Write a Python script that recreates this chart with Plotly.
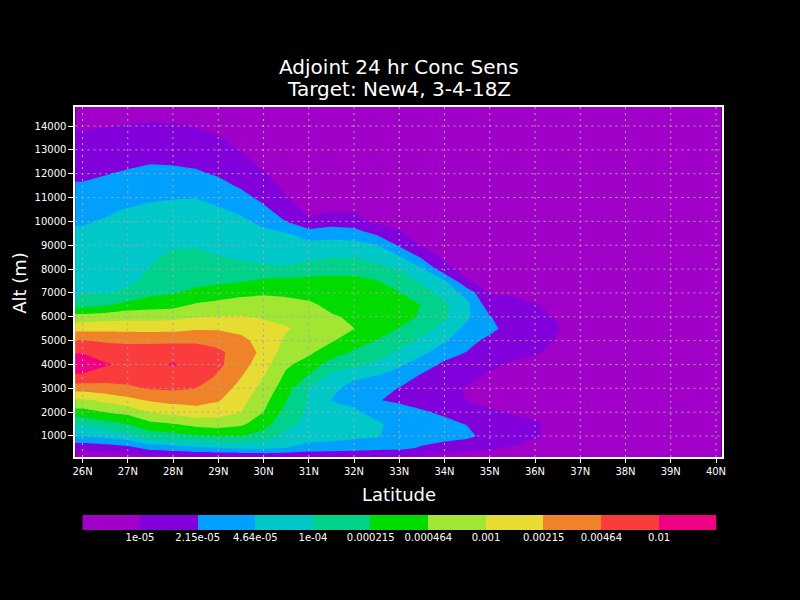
import numpy as np
import plotly.graph_objects as go

# ---------------- data (log10 of adjoint concentration sensitivity) ----------------
latitudes = [25.8, 26.0, 26.5, 27.0, 27.5, 28.0, 28.5, 29.0, 29.5, 30.0, 30.5, 31.0, 31.5,
             32.0, 32.5, 33.0, 33.5, 34.0, 34.5, 35.0, 35.5, 36.0, 36.5, 37.0, 38.0, 40.2]
altitudes_m = [0, 500, 1000, 1500, 2000, 2500, 3000, 3500, 4000, 4500, 5000, 5500, 6000, 6500,
               7000, 7500, 8000, 8500, 9000, 9500, 10000, 10500, 11000, 11500, 12000, 12500,
               13000, 13500, 14000, 14500, 15000]

# one vertical profile (bottom -> top) per latitude
log_sens_25p8N = [-5.2, -4.92, -4.31, -3.96, -3.45, -3.06, -2.52, -2.06, -1.8, -2.02, -2.32, -2.77, -3.2, -3.79, -4.43, -4.23, -4.12, -4.18, -4.24, -4.29, -4.36, -4.45, -4.55, -4.64, -4.72, -4.8, -4.87, -4.95, -5.03, -5.1, -5.17]
log_sens_26N = [-5.2, -4.92, -4.31, -3.96, -3.45, -3.06, -2.52, -2.06, -1.8, -2.02, -2.32, -2.77, -3.2, -3.79, -4.01, -4.07, -4.12, -4.18, -4.24, -4.29, -4.36, -4.45, -4.55, -4.64, -4.72, -4.8, -4.87, -4.95, -5.03, -5.1, -5.17]
log_sens_26p5N = [-5.2, -4.86, -4.23, -3.8, -3.33, -2.92, -2.46, -2.17, -1.97, -2.16, -2.37, -2.76, -3.15, -3.72, -4.01, -4.05, -4.1, -4.15, -4.2, -4.26, -4.31, -4.38, -4.48, -4.59, -4.68, -4.76, -4.85, -4.93, -5.01, -5.08, -5.15]
log_sens_27N = [-5.22, -4.77, -4.1, -3.66, -3.23, -2.77, -2.4, -2.17, -2.07, -2.17, -2.4, -2.76, -3.11, -3.54, -3.96, -4.04, -4.09, -4.14, -4.18, -4.23, -4.28, -4.32, -4.42, -4.53, -4.63, -4.73, -4.81, -4.9, -4.99, -5.07, -5.13]
log_sens_27p5N = [-5.23, -4.55, -3.84, -3.42, -2.99, -2.63, -2.3, -2.13, -2.07, -2.13, -2.41, -2.77, -3.12, -3.47, -3.74, -3.95, -3.99, -4.04, -4.1, -4.16, -4.22, -4.28, -4.37, -4.48, -4.58, -4.69, -4.78, -4.88, -4.97, -5.07, -5.13]
log_sens_28N = [-5.23, -4.47, -3.77, -3.35, -2.89, -2.56, -2.28, -2.1, -1.98, -2.1, -2.41, -2.76, -3.09, -3.45, -3.69, -3.77, -3.86, -3.94, -4.03, -4.1, -4.18, -4.26, -4.35, -4.47, -4.59, -4.7, -4.8, -4.89, -4.98, -5.07, -5.13]
log_sens_28p5N = [-5.23, -4.37, -3.7, -3.22, -2.81, -2.54, -2.33, -2.17, -2.07, -2.13, -2.4, -2.7, -3.02, -3.29, -3.6, -3.74, -3.84, -3.93, -4.02, -4.1, -4.18, -4.26, -4.34, -4.48, -4.62, -4.73, -4.82, -4.91, -5.01, -5.07, -5.13]
log_sens_29N = [-5.2, -4.33, -3.65, -3.17, -2.86, -2.64, -2.5, -2.37, -2.27, -2.27, -2.44, -2.7, -2.99, -3.23, -3.51, -3.73, -3.86, -3.99, -4.07, -4.15, -4.23, -4.3, -4.43, -4.57, -4.7, -4.79, -4.88, -4.98, -5.07, -5.13, -5.17]
log_sens_29p5N = [-5.2, -4.28, -3.65, -3.27, -2.99, -2.89, -2.77, -2.65, -2.52, -2.48, -2.58, -2.76, -2.98, -3.19, -3.41, -3.69, -3.9, -4.04, -4.12, -4.2, -4.28, -4.39, -4.56, -4.71, -4.81, -4.91, -5.01, -5.08, -5.13, -5.17, -5.2]
log_sens_30N = [-5.17, -4.27, -3.8, -3.53, -3.33, -3.22, -3.1, -2.99, -2.87, -2.75, -2.8, -2.9, -3.03, -3.19, -3.37, -3.6, -3.93, -4.08, -4.17, -4.27, -4.4, -4.6, -4.75, -4.86, -4.98, -5.07, -5.12, -5.15, -5.17, -5.18, -5.2]
log_sens_30p5N = [-5.17, -4.33, -4.09, -3.91, -3.78, -3.65, -3.52, -3.4, -3.28, -3.16, -3.05, -2.97, -3.09, -3.23, -3.39, -3.57, -3.96, -4.1, -4.21, -4.32, -4.67, -4.83, -4.99, -5.07, -5.12, -5.15, -5.17, -5.18, -5.18, -5.2, -5.2]
log_sens_31N = [-5.17, -4.44, -4.2, -4.1, -4.05, -4.03, -4.01, -3.7, -3.46, -3.28, -3.17, -3.1, -3.15, -3.28, -3.43, -3.58, -3.82, -4.08, -4.23, -4.5, -4.96, -5.07, -5.12, -5.15, -5.17, -5.18, -5.18, -5.2, -5.2, -5.2, -5.2]
log_sens_31p5N = [-5.17, -4.47, -4.23, -4.18, -4.27, -4.34, -4.25, -4.1, -3.82, -3.5, -3.3, -3.23, -3.3, -3.41, -3.5, -3.6, -3.75, -4.01, -4.2, -4.48, -4.82, -5.05, -5.1, -5.13, -5.17, -5.18, -5.18, -5.2, -5.2, -5.2, -5.2]
log_sens_32N = [-5.17, -4.51, -4.27, -4.23, -4.28, -4.42, -4.45, -4.27, -3.93, -3.71, -3.5, -3.33, -3.38, -3.47, -3.55, -3.62, -3.73, -4.01, -4.22, -4.51, -4.86, -5.05, -5.1, -5.13, -5.17, -5.18, -5.18, -5.2, -5.2, -5.2, -5.2]
log_sens_32p5N = [-5.17, -4.56, -4.3, -4.27, -4.45, -4.65, -4.52, -4.35, -4.05, -3.86, -3.68, -3.48, -3.4, -3.43, -3.53, -3.65, -3.89, -4.11, -4.31, -4.73, -5.07, -5.1, -5.13, -5.17, -5.18, -5.18, -5.2, -5.2, -5.2, -5.2, -5.2]
log_sens_33N = [-5.17, -4.57, -4.47, -4.47, -4.53, -4.72, -4.68, -4.48, -4.28, -4.05, -3.86, -3.68, -3.5, -3.47, -3.65, -3.84, -4.03, -4.29, -4.71, -4.97, -5.07, -5.12, -5.15, -5.17, -5.18, -5.18, -5.2, -5.2, -5.2, -5.2, -5.2]
log_sens_33p5N = [-5.17, -4.7, -4.52, -4.53, -4.63, -4.8, -4.85, -4.72, -4.5, -4.26, -4.06, -3.87, -3.72, -3.68, -3.87, -4.05, -4.29, -4.71, -5.03, -5.08, -5.12, -5.15, -5.17, -5.18, -5.18, -5.2, -5.2, -5.2, -5.2, -5.2, -5.2]
log_sens_34N = [-5.17, -4.8, -4.55, -4.58, -4.72, -4.85, -4.9, -4.83, -4.73, -4.52, -4.3, -4.11, -3.95, -3.93, -4.12, -4.31, -4.89, -5.07, -5.1, -5.13, -5.17, -5.18, -5.18, -5.2, -5.2, -5.2, -5.2, -5.2, -5.2, -5.2, -5.2]
log_sens_34p5N = [-5.17, -4.93, -4.58, -4.68, -4.87, -5.01, -5.03, -4.9, -4.8, -4.68, -4.56, -4.43, -4.28, -4.25, -4.46, -4.97, -5.1, -5.13, -5.17, -5.18, -5.18, -5.2, -5.2, -5.2, -5.2, -5.2, -5.2, -5.2, -5.2, -5.2, -5.2]
log_sens_35N = [-5.17, -4.97, -4.8, -4.8, -4.97, -5.07, -5.12, -5.05, -4.93, -4.85, -4.75, -4.58, -4.65, -4.85, -5.02, -5.08, -5.13, -5.17, -5.18, -5.18, -5.2, -5.2, -5.2, -5.2, -5.2, -5.2, -5.2, -5.2, -5.2, -5.2, -5.2]
log_sens_35p5N = [-5.17, -5.02, -4.88, -4.9, -5.02, -5.1, -5.15, -5.1, -5.03, -4.93, -4.85, -4.8, -4.85, -4.93, -5.03, -5.1, -5.13, -5.17, -5.18, -5.18, -5.2, -5.2, -5.2, -5.2, -5.2, -5.2, -5.2, -5.2, -5.2, -5.2, -5.2]
log_sens_36N = [-5.17, -5.07, -4.98, -4.98, -5.05, -5.12, -5.17, -5.13, -5.05, -4.98, -4.92, -4.88, -4.93, -4.99, -5.07, -5.12, -5.15, -5.17, -5.18, -5.18, -5.2, -5.2, -5.2, -5.2, -5.2, -5.2, -5.2, -5.2, -5.2, -5.2, -5.2]
log_sens_36p5N = [-5.17, -5.1, -5.06, -5.05, -5.1, -5.15, -5.18, -5.17, -5.1, -5.05, -5.02, -4.99, -5.02, -5.05, -5.1, -5.13, -5.17, -5.18, -5.18, -5.2, -5.2, -5.2, -5.2, -5.2, -5.2, -5.2, -5.2, -5.2, -5.2, -5.2, -5.2]
log_sens_37N = [-5.17, -5.13, -5.12, -5.12, -5.13, -5.17, -5.2, -5.18, -5.13, -5.12, -5.1, -5.08, -5.1, -5.12, -5.15, -5.17, -5.18, -5.2, -5.2, -5.2, -5.2, -5.2, -5.2, -5.2, -5.2, -5.2, -5.2, -5.2, -5.2, -5.2, -5.2]
log_sens_38N = [-5.22, -5.2, -5.2, -5.2, -5.22, -5.23, -5.25, -5.25, -5.22, -5.2, -5.2, -5.2, -5.2, -5.22, -5.23, -5.25, -5.25, -5.25, -5.25, -5.25, -5.25, -5.25, -5.25, -5.25, -5.25, -5.25, -5.25, -5.25, -5.25, -5.25, -5.25]
log_sens_40p2N = [-5.3, -5.3, -5.3, -5.3, -5.3, -5.3, -5.3, -5.3, -5.3, -5.3, -5.3, -5.3, -5.3, -5.3, -5.3, -5.3, -5.3, -5.3, -5.3, -5.3, -5.3, -5.3, -5.3, -5.3, -5.3, -5.3, -5.3, -5.3, -5.3, -5.3, -5.3]

profiles = [log_sens_25p8N, log_sens_26N, log_sens_26p5N, log_sens_27N, log_sens_27p5N,
            log_sens_28N, log_sens_28p5N, log_sens_29N, log_sens_29p5N, log_sens_30N,
            log_sens_30p5N, log_sens_31N, log_sens_31p5N, log_sens_32N, log_sens_32p5N,
            log_sens_33N, log_sens_33p5N, log_sens_34N, log_sens_34p5N, log_sens_35N,
            log_sens_35p5N, log_sens_36N, log_sens_36p5N, log_sens_37N, log_sens_38N,
            log_sens_40p2N]

lat_tick_values = [26, 27, 28, 29, 30, 31, 32, 33, 34, 35, 36, 37, 38, 39, 40]
lat_tick_labels = ["26N", "27N", "28N", "29N", "30N", "31N", "32N", "33N", "34N", "35N",
                   "36N", "37N", "38N", "39N", "40N"]
alt_tick_values = [1000, 2000, 3000, 4000, 5000, 6000, 7000, 8000, 9000, 10000, 11000,
                   12000, 13000, 14000]

level_values = [1e-05, 2.15e-05, 4.64e-05, 1e-04, 0.000215, 0.000464, 0.001, 0.00215,
                0.00464, 0.01]
level_labels = ["1e-05", "2.15e-05", "4.64e-05", "1e-04", "0.000215", "0.000464", "0.001",
                "0.00215", "0.00464", "0.01"]
band_colors = ["#A000C8", "#8200DC", "#00A0FF", "#00C8C8", "#00D28C", "#00DC00",
               "#A0E632", "#E6DC32", "#F08228", "#FA3C3C", "#F00082"]

# ---------------- figure ----------------
W, H = 800, 600
FONT = "DejaVu Sans"
z = np.array(profiles).T  # rows = altitude, cols = latitude

n_col = len(band_colors)
colorscale = [[i / (n_col - 1), c] for i, c in enumerate(band_colors)]
lv = np.log10(level_values)
c_start, c_end = float(lv[0]), float(lv[-1])
c_size = (c_end - c_start) / (len(lv) - 1)

fig = go.Figure()
fig.add_trace(go.Contour(
    x=latitudes, y=altitudes_m, z=z,
    contours=dict(start=c_start, end=c_end, size=c_size, coloring="fill", showlines=False),
    line=dict(width=0, smoothing=0),
    colorscale=colorscale, showscale=False, hoverinfo="skip",
    xaxis="x", yaxis="y",
))

# colour key drawn as a one-row heatmap on its own axes
band_index = list(range(n_col))
fig.add_trace(go.Heatmap(
    x=band_index, y=[0], z=[band_index], zmin=0, zmax=n_col - 1,
    colorscale=colorscale, showscale=False, hoverinfo="skip",
    xaxis="x2", yaxis="y2",
))

# plot-area pixel box
PX0, PX1, PY0, PY1 = 73, 725, 107, 457


def px2paper_x(px):
    return px / W


def py2paper_y(py):
    return 1 - py / H


axis_common = dict(showgrid=False, zeroline=False, showline=True, linecolor="white",
                   linewidth=2, mirror=True, ticks="outside", tickcolor="white",
                   tickwidth=1, tickfont=dict(family=FONT, size=10, color="white"))

fig.update_layout(
    width=W, height=H,
    margin=dict(l=0, r=0, t=0, b=0),
    paper_bgcolor="black", plot_bgcolor="black",
    showlegend=False,
    xaxis=dict(domain=[px2paper_x(PX0), px2paper_x(PX1)], range=[25.842, 40.125],
               tickvals=lat_tick_values, ticktext=lat_tick_labels, ticklen=4,
               anchor="y", **axis_common),
    yaxis=dict(domain=[py2paper_y(PY1), py2paper_y(PY0)], range=[119, 14797],
               tickvals=alt_tick_values, ticktext=[str(v) for v in alt_tick_values],
               ticklen=5, anchor="x", **axis_common),
    xaxis2=dict(domain=[px2paper_x(80), px2paper_x(720)], range=[-0.5, n_col - 0.5],
                anchor="y2", showgrid=False, zeroline=False, showline=False,
                tickvals=[i + 0.5 for i in range(len(level_labels))], ticktext=level_labels,
                ticks="", tickfont=dict(family=FONT, size=10, color="white")),
    yaxis2=dict(domain=[py2paper_y(530), py2paper_y(515)], range=[-0.5, 0.5], anchor="x2",
                visible=False),
)

# dotted grid drawn above the filled contours
grid_style = dict(color="#a8a8a8", width=1, dash="2px,4px")
shapes = []
for v in lat_tick_values:
    shapes.append(dict(type="line", xref="x", yref="y domain", x0=v, x1=v, y0=0, y1=1,
                       line=grid_style, layer="above"))
for v in alt_tick_values:
    shapes.append(dict(type="line", xref="x domain", yref="y", x0=0, x1=1, y0=v, y1=v,
                       line=grid_style, layer="above"))
fig.update_layout(shapes=shapes)

annotations = [
    dict(text="Adjoint 24 hr Conc Sens", x=px2paper_x(399), y=py2paper_y(67),
         font=dict(family=FONT, size=20, color="white")),
    dict(text="Target: New4, 3-4-18Z", x=px2paper_x(399), y=py2paper_y(89),
         font=dict(family=FONT, size=20, color="white")),
    dict(text="Latitude", x=px2paper_x(399), y=py2paper_y(494),
         font=dict(family=FONT, size=18, color="white")),
    dict(text="Alt (m)", x=px2paper_x(16), y=py2paper_y(283), textangle=-90,
         font=dict(family=FONT, size=18, color="white")),
]
for a in annotations:
    a.update(xref="paper", yref="paper", showarrow=False, xanchor="center", yanchor="middle")
fig.update_layout(annotations=annotations)

fig.write_html("out.html",
               config={"displayModeBar": False, "staticPlot": True},
               post_script="document.body.style.margin='0';"
                           "document.body.style.background='black';")
